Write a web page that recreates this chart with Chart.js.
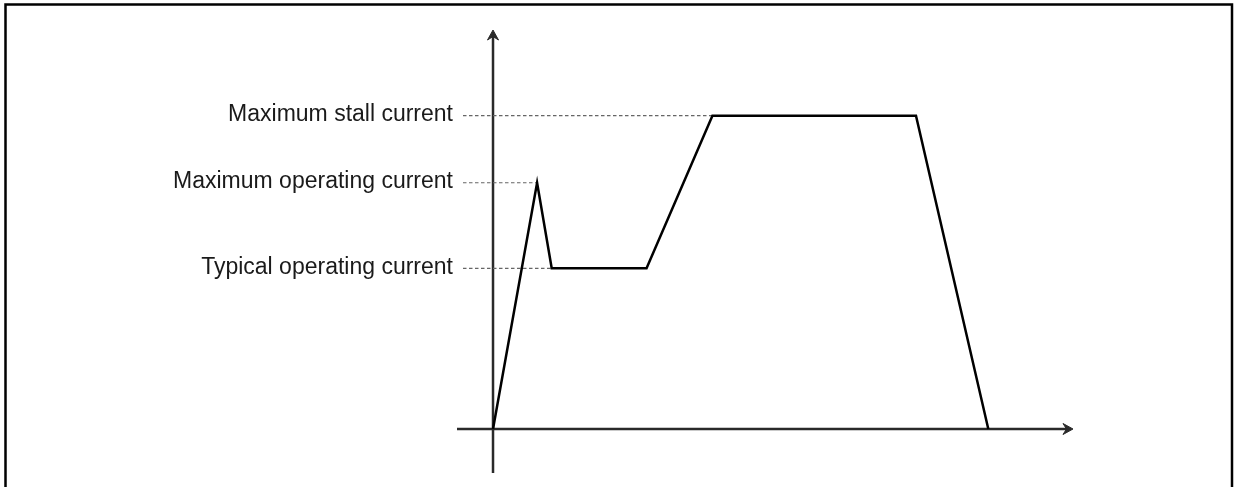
<!DOCTYPE html>
<html>
<head>
<meta charset="utf-8">
<script src="https://cdn.jsdelivr.net/npm/chart.js@4"></script>
<style>
  html, body { margin: 0; padding: 0; background: #fff; }
  #wrap { position: relative; width: 1234px; height: 487px; }
</style>
</head>
<body>
<div id="wrap"><canvas id="c" width="1234" height="487"></canvas></div>
<script>
// Time (arbitrary units) and current (% of maximum stall current)
const timePoints    = [0, 8.9, 11.85, 31.0, 44.3, 85.4, 100];
const currentValues = [0, 78.6, 51.3, 51.3, 100, 100, 0];

const levelLabels = ['Maximum stall current', 'Maximum operating current', 'Typical operating current'];
const levelValues = [100, 78.6, 51.3];
const levelEndX   = [44.3, 8.9, 11.85];
const guideStartX = -6.06;

const xRange = [-7.27, 117.1];
const yRange = [-14.04, 127.35];

const guideDatasets = levelValues.map((v, i) => ({
  data: [{x: guideStartX, y: v}, {x: levelEndX[i], y: v}],
  borderColor: '#666',
  borderWidth: 1.2,
  borderDash: [3.5, 2.5],
  pointRadius: 0,
  showLine: true,
  fill: false,
  order: 2
}));

const mainDataset = {
  data: timePoints.map((t, i) => ({x: t, y: currentValues[i]})),
  borderColor: '#000',
  borderWidth: 2.5,
  borderJoinStyle: 'miter',
  pointRadius: 0,
  showLine: true,
  fill: false,
  tension: 0,
  order: 1
};

function arrowHead(ctx, x, y, dir) {
  ctx.save();
  ctx.translate(x, y);
  if (dir === 'up') ctx.rotate(-Math.PI / 2);
  ctx.beginPath();
  ctx.moveTo(0, 0);
  ctx.lineTo(-10, -5.5);
  ctx.lineTo(-6.5, 0);
  ctx.lineTo(-10, 5.5);
  ctx.closePath();
  ctx.fill();
  ctx.lineWidth = 1;
  ctx.lineJoin = 'round';
  ctx.stroke();
  ctx.restore();
}

const decorPlugin = {
  id: 'decor',
  beforeDatasetsDraw(chart) {
    const ctx = chart.ctx;
    const xs = chart.scales.x, ys = chart.scales.y;
    const ca = chart.chartArea;
    const x0 = xs.getPixelForValue(0);
    const y0 = ys.getPixelForValue(0);
    ctx.save();
    ctx.strokeStyle = '#2a2a2a';
    ctx.fillStyle = '#2a2a2a';
    ctx.lineWidth = 2.5;
    // x axis
    ctx.beginPath();
    ctx.moveTo(ca.left, y0);
    ctx.lineTo(ca.right - 5, y0);
    ctx.stroke();
    arrowHead(ctx, ca.right, y0, 'right');
    // y axis
    ctx.beginPath();
    ctx.moveTo(x0, ca.bottom);
    ctx.lineTo(x0, ca.top + 5);
    ctx.stroke();
    arrowHead(ctx, x0, ca.top, 'up');
    ctx.restore();
  },
  afterDraw(chart) {
    const ctx = chart.ctx;
    const ys = chart.scales.y;
    ctx.save();
    // outer frame
    ctx.strokeStyle = '#000';
    ctx.lineWidth = 2.5;
    ctx.strokeRect(5.5, 4.5, 1226.5, 500);
    // labels
    ctx.fillStyle = '#1a1a1a';
    ctx.font = '23px "Liberation Sans", Arial, sans-serif';
    ctx.textAlign = 'right';
    ctx.textBaseline = 'middle';
    levelLabels.forEach((lbl, i) => {
      ctx.fillText(lbl, 453, ys.getPixelForValue(levelValues[i]) - 1);
    });
    ctx.restore();
  }
};

new Chart(document.getElementById('c'), {
  type: 'scatter',
  data: { datasets: [mainDataset, ...guideDatasets] },
  options: {
    responsive: false,
    animation: false,
    layout: { padding: { left: 457, right: 161, top: 30, bottom: 14 } },
    plugins: { legend: { display: false }, tooltip: { enabled: false } },
    scales: {
      x: { type: 'linear', min: xRange[0], max: xRange[1], display: false },
      y: { type: 'linear', min: yRange[0], max: yRange[1], display: false }
    }
  },
  plugins: [decorPlugin]
});
</script>
</body>
</html>
